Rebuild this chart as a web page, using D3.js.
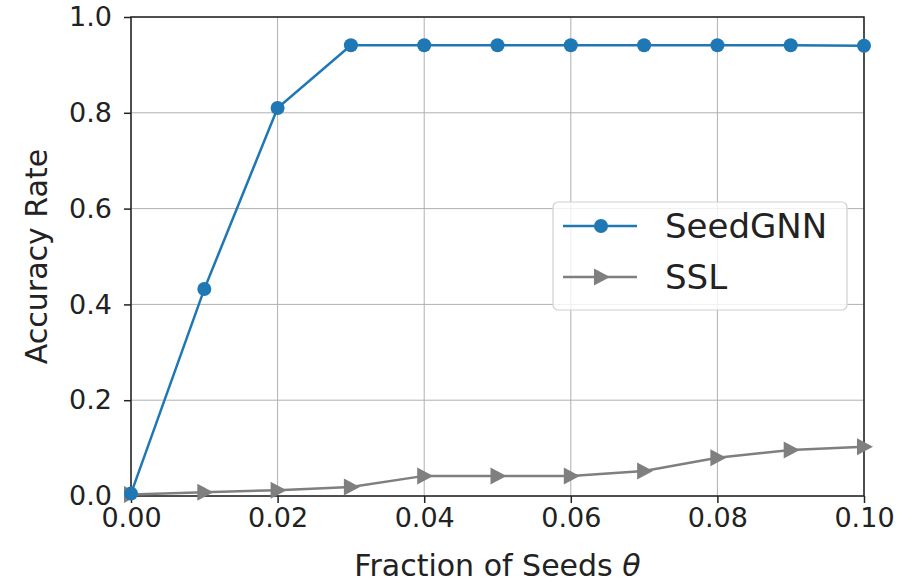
<!DOCTYPE html>
<html>
<head>
<meta charset="utf-8">
<script src="https://cdn.jsdelivr.net/npm/d3@7"></script>
<style>
  body { margin: 0; background: #fff; }
  svg { font-family: "DejaVu Sans", sans-serif; }
</style>
</head>
<body>
<svg id="chart" width="912" height="583"></svg>
<script>
// fraction of seeds
var fractions = [0.00, 0.01, 0.02, 0.03, 0.04, 0.05, 0.06, 0.07, 0.08, 0.09, 0.10];
var seedgnn = [0.005, 0.432, 0.810, 0.941, 0.941, 0.941, 0.941, 0.941, 0.941, 0.941, 0.940];
var ssl = [0.003, 0.008, 0.012, 0.019, 0.042, 0.042, 0.042, 0.052, 0.080, 0.096, 0.103];
var xTicks = [0.00, 0.02, 0.04, 0.06, 0.08, 0.10];
var yTicks = [0.0, 0.2, 0.4, 0.6, 0.8, 1.0];

var svg = d3.select("#chart"),
    margin = { top: 17, right: 48, bottom: 87, left: 131 },
    width = +svg.attr("width") - margin.left - margin.right,
    height = +svg.attr("height") - margin.top - margin.bottom,
    g = svg.append("g").attr("transform", "translate(" + margin.left + "," + margin.top + ")");

var x = d3.scaleLinear().domain([0, 0.1]).range([0, width]);
var y = d3.scaleLinear().domain([0, 1]).range([height, 0]);

// grid
g.append("g").selectAll("line").data(xTicks).enter().append("line")
    .attr("x1", function(d) { return x(d); }).attr("x2", function(d) { return x(d); })
    .attr("y1", 0).attr("y2", height)
    .attr("stroke", "#b0b0b0").attr("stroke-width", 1);
g.append("g").selectAll("line").data(yTicks).enter().append("line")
    .attr("y1", function(d) { return y(d); }).attr("y2", function(d) { return y(d); })
    .attr("x1", 0).attr("x2", width)
    .attr("stroke", "#b0b0b0").attr("stroke-width", 1);

// axes
var xAxis = g.append("g")
    .attr("transform", "translate(0," + height + ")")
    .call(d3.axisBottom(x).tickValues(xTicks).tickFormat(d3.format(".2f")).tickSize(7).tickPadding(5));
var yAxis = g.append("g")
    .call(d3.axisLeft(y).tickValues(yTicks).tickFormat(d3.format(".1f")).tickSize(7).tickPadding(12));
[xAxis, yAxis].forEach(function(a) {
    a.select(".domain").remove();
    a.selectAll("text").attr("font-size", 27).attr("fill", "#222").attr("font-family", "DejaVu Sans");
    a.selectAll("line").attr("stroke", "#222").attr("stroke-width", 1.5);
});

// frame
g.append("rect").attr("width", width).attr("height", height)
    .attr("fill", "none").attr("stroke", "#222").attr("stroke-width", 1.5);

var line = d3.line()
    .x(function(d, i) { return x(fractions[i]); })
    .y(function(d) { return y(d); });

// SSL
g.append("path").datum(ssl).attr("d", line)
    .attr("fill", "none").attr("stroke", "#7f7f7f").attr("stroke-width", 2.5);
var tri = "M-7,-8.5L9,0L-7,8.5Z";
g.selectAll(".ssl").data(ssl).enter().append("path")
    .attr("class", "ssl")
    .attr("d", tri)
    .attr("transform", function(d, i) { return "translate(" + x(fractions[i]) + "," + y(d) + ")"; })
    .attr("fill", "#7f7f7f");

// SeedGNN
g.append("path").datum(seedgnn).attr("d", line)
    .attr("fill", "none").attr("stroke", "#1f77b4").attr("stroke-width", 2.5);
g.selectAll(".gnn").data(seedgnn).enter().append("circle")
    .attr("class", "gnn")
    .attr("cx", function(d, i) { return x(fractions[i]); })
    .attr("cy", function(d) { return y(d); })
    .attr("r", 7)
    .attr("fill", "#1f77b4");

// legend
var lg = svg.append("g").attr("transform", "translate(553,202)");
lg.append("rect").attr("width", 294).attr("height", 108).attr("rx", 5)
    .attr("fill", "#fff").attr("fill-opacity", 0.8)
    .attr("stroke", "#d0d0d0").attr("stroke-width", 1.2);
var items = [
    { name: "SeedGNN", color: "#1f77b4", type: "circle" },
    { name: "SSL", color: "#7f7f7f", type: "tri" }
];
items.forEach(function(it, i) {
    var yy = 24 + i * 51;
    lg.append("line").attr("x1", 10).attr("x2", 84).attr("y1", yy).attr("y2", yy)
        .attr("stroke", it.color).attr("stroke-width", 2.5);
    if (it.type == "circle") {
        lg.append("circle").attr("cx", 48).attr("cy", yy).attr("r", 7).attr("fill", it.color);
    } else {
        lg.append("path").attr("d", tri).attr("transform", "translate(48," + yy + ")").attr("fill", it.color);
    }
    lg.append("text").attr("x", 112).attr("y", yy).attr("dy", "0.35em")
        .attr("font-size", 34).attr("fill", "#222").text(it.name);
});

// axis labels
svg.append("text")
    .attr("x", margin.left + width / 2).attr("y", 576)
    .attr("text-anchor", "middle").attr("font-size", 30).attr("fill", "#222")
    .html('Fraction of Seeds <tspan font-style="italic">θ</tspan>');
svg.append("text")
    .attr("transform", "translate(47," + (margin.top + height / 2) + ") rotate(-90)")
    .attr("text-anchor", "middle").attr("font-size", 30).attr("fill", "#222")
    .text("Accuracy Rate");
</script>
</body>
</html>
